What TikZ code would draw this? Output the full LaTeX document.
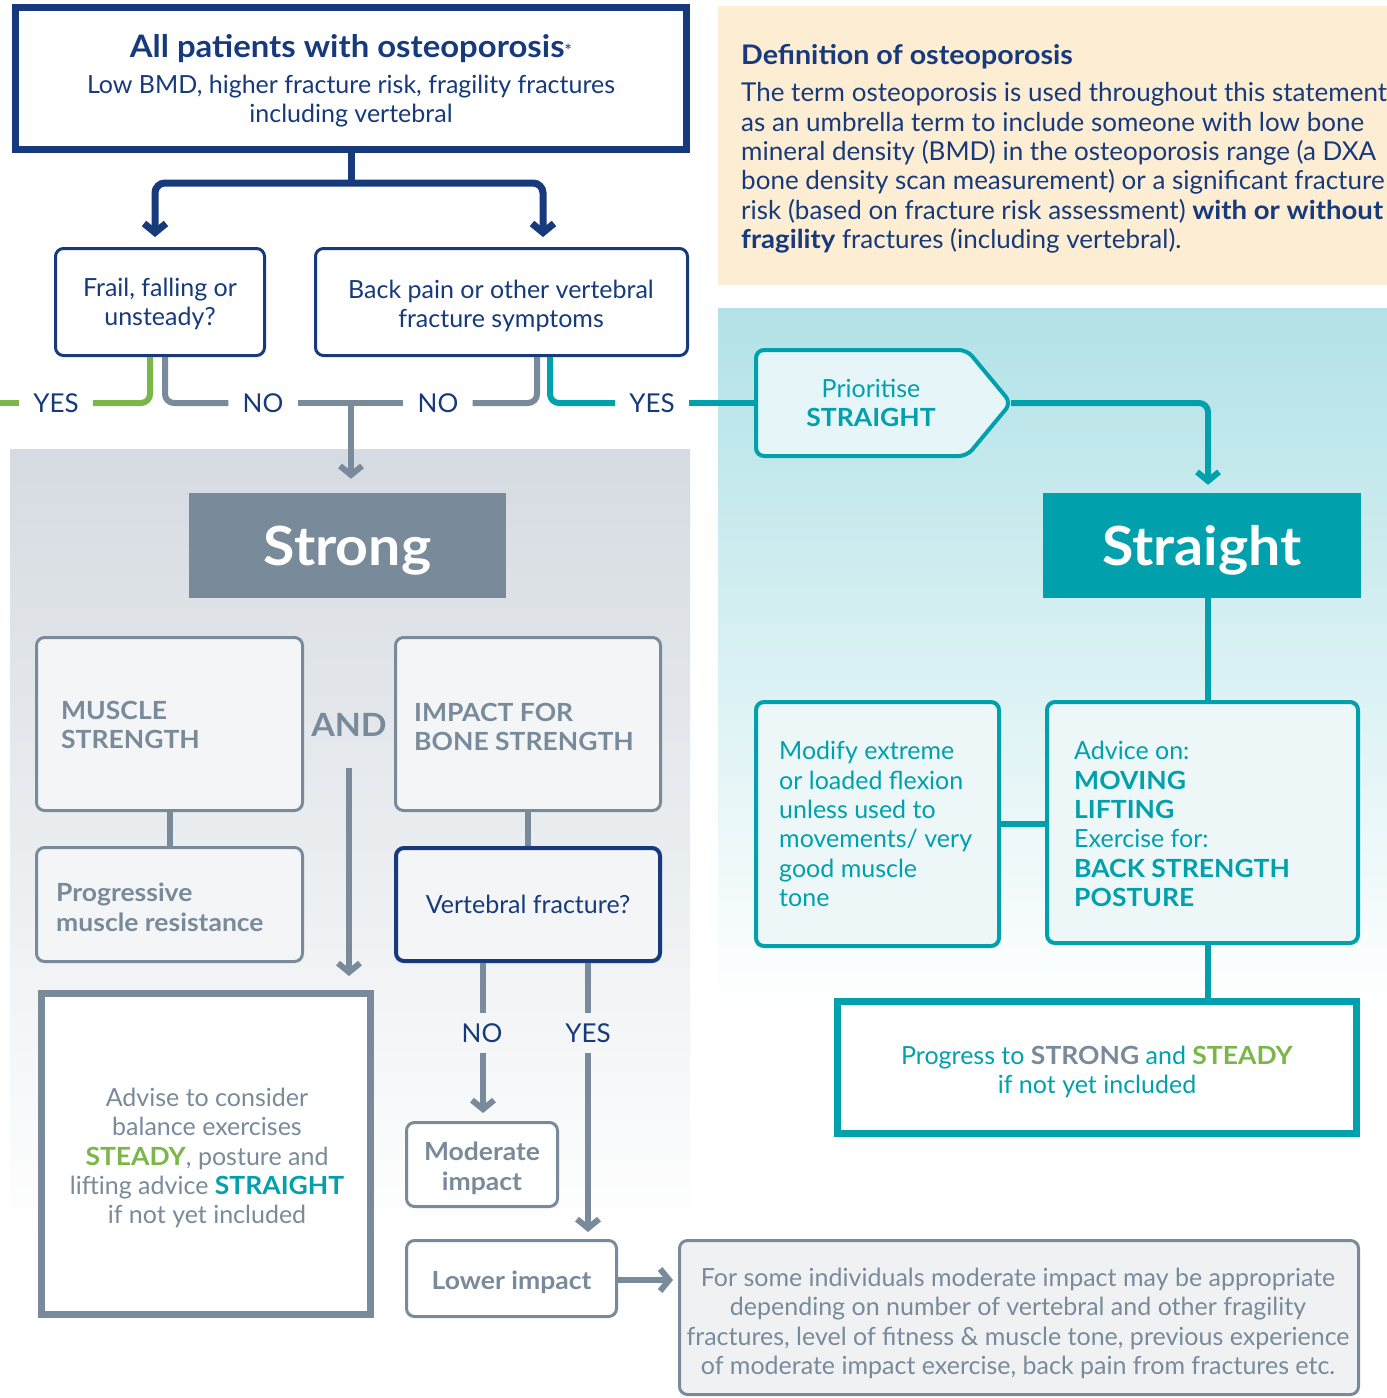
\documentclass[tikz,border=0pt]{standalone}
\usepackage{fontspec}
\setmainfont{Lato}[BoldFeatures={FakeStretch=1.06}]
\usetikzlibrary{arrows.meta,calc}
\definecolor{navy}{HTML}{163A7C}
\definecolor{cgrey}{HTML}{798A9B}
\definecolor{cteal}{HTML}{00A1AD}
\definecolor{cgreen}{HTML}{7AB648}
\definecolor{cbeige}{HTML}{FDEDD3}
\definecolor{ctealbg}{HTML}{B2E2E7}
\definecolor{cgreybg}{HTML}{D5DBE1}
\definecolor{cboxg}{HTML}{F4F5F7}
\definecolor{cboxt}{HTML}{EDF7F8}
\definecolor{cprio}{HTML}{E6F5F7}
\definecolor{cnote}{HTML}{F0F1F3}
\newcommand\fsz[2]{\fontsize{#1}{#2}\selectfont}
\begin{document}
\begin{tikzpicture}[x=1pt,y=-1pt,
  nconn/.style={draw=navy,line width=7pt,rounded corners=10pt},
  gconn/.style={draw=cgreen,line width=6pt,rounded corners=9pt},
  sconn/.style={draw=cgrey,line width=6pt,rounded corners=9pt},
  tconn/.style={draw=cteal,line width=6pt,rounded corners=9pt},
  arr/.style={-{Straight Barb[length=9pt,width=22pt]}},
  gbox/.style={draw=cgrey,line width=3pt,rounded corners=8pt,fill=cboxg},
  tbox/.style={draw=cteal,line width=4pt,rounded corners=8pt,fill=cboxt},
  nbox/.style={draw=navy,line width=3pt,rounded corners=8pt,fill=white},
  lbl/.style={text=navy,font=\fsz{26}{29},inner xsep=14pt,inner ysep=11pt,text height=18pt,text depth=0pt},
  gtxt/.style={text=cgrey,font=\fsz{25}{29.3}\bfseries,align=left,inner sep=0pt},
  ttxt/.style={text=cteal,font=\fsz{25}{29.3},align=left,inner sep=0pt},
  ctxt/.style={align=center,inner sep=0pt}]
\useasboundingbox (0,0) rectangle (1387,1398);
\fill[white] (0,0) rectangle (1387,1398);
% backgrounds
\fill[cbeige] (718,6) rectangle (1387,285);
\shade[top color=ctealbg,bottom color=white] (718,308) rectangle (1387,1010);
\shade[top color=cgreybg,bottom color=white] (10,449) rectangle (690,1240);

% definition
\node[anchor=west,text=navy,font=\fsz{27}{30}\bfseries,inner sep=0pt] (deftitle) at (741,57) {Definition of osteoporosis};
\node[anchor=west,text=navy,font=\fsz{26}{29.4},align=left,inner sep=0pt] (defbody) at (741,168) {The term osteoporosis is used throughout this statement\\
as an umbrella term to include someone with low bone\\
mineral density (BMD) in the osteoporosis range (a DXA\\
bone density scan measurement) or a significant fracture\\
risk (based on fracture risk assessment) \textbf{with or without}\\
\textbf{fragility} fractures (including vertebral).};

% top box
\node[draw=navy,line width=7pt,fill=white,minimum width=671pt,minimum height=142pt] (top) at (351,78.5) {};
\node[ctxt,text=navy,font=\fsz{25}{29}] (topT) at (351,81)
 {{\fsz{31}{36}\bfseries All patients with osteoporosis}{\fsz{18}{18}*}\\[7pt]Low BMD, higher fracture risk, fragility fractures\\including vertebral};

\node[nbox,minimum width=209pt,minimum height=107pt] (frail) at (160,302) {};
\node[ctxt,text=navy,font=\fsz{25}{29}] (frailT) at (160,304) {Frail, falling or\\unsteady?};
\node[nbox,minimum width=372pt,minimum height=107pt] (back) at (501.5,302) {};
\node[ctxt,text=navy,font=\fsz{25}{29}] (backT) at (501,305.5) {Back pain or other vertebral\\fracture symptoms};

\coordinate (j1) at (351,183);
\draw[nconn] (top.south) -- (j1);
\draw[nconn,arr,shorten >=10pt] (j1) -| (frail.north -| 155,0);
\draw[nconn,arr,shorten >=10pt] (j1) -| (back.north -| 543,0);

% yes / no labels
\node[lbl] (yesL) at (56,403) {YES};
\node[lbl] (noL) at (263,403) {NO};
\node[lbl] (noR) at (438,403) {NO};
\node[lbl] (yesR) at (652,403) {YES};
\coordinate (edgeL) at (0,403);
\coordinate (j2) at (351,403);

% Prioritise shape
\draw[draw=cteal,line width=4pt,fill=cprio,rounded corners=8pt] (1011,403) -- (967,350) -- (756,350) -- (756,456) -- (967,456) -- cycle;
\coordinate (prioW) at (756,403);
\coordinate (prioE) at (1011,403);
\node[ctxt,text=cteal,font=\fsz{25}{29}] (prio) at (871,403) {Prioritise\\\textbf{STRAIGHT}};

\draw[gconn] (frail.south -| 150,0) |- (yesL.east);
\draw[gconn] (yesL.west) -- (edgeL);
\draw[sconn] (frail.south -| 165,0) |- (noL.west);
\draw[sconn] (noL.east) -- (noR.west);
\draw[sconn] (back.south -| 537,0) |- (noR.east);
\draw[tconn] (back.south -| 550,0) |- (yesR.west);
\draw[tconn] (yesR.east) -- (prioW);

% Strong / Straight headers
\node[fill=cgrey,minimum width=317pt,minimum height=105pt,text=white,font=\fsz{54}{60}\bfseries,text depth=0pt] (strongbox) at (347.5,545.5) {Strong};
\node[fill=cteal,minimum width=318pt,minimum height=105pt,text=white,font=\fsz{54}{60}\bfseries,text depth=0pt] (straightbox) at (1202,545.5) {Straight};

\draw[sconn,arr,shorten >=14pt] (j2) -- (j2 |- strongbox.north);
\draw[tconn,arr,shorten >=8pt] (prioE) -| (straightbox.north -| 1208,0);

% Straight branch
\node[tbox,minimum width=243pt,minimum height=244pt] (modify) at (877.5,824) {};
\node[tbox,minimum width=311pt,minimum height=241pt] (advice) at (1202.5,822.5) {};
\node[ttxt,anchor=west] (modifyT) at (779,824) {Modify extreme\\or loaded flexion\\unless used to\\movements/ very\\good muscle\\tone};
\node[ttxt,anchor=west] (adviceT) at (1074,824) {Advice on:\\\textbf{MOVING}\\\textbf{LIFTING}\\Exercise for:\\\textbf{BACK STRENGTH}\\\textbf{POSTURE}};
\node[draw=cteal,line width=7pt,fill=white,minimum width=519pt,minimum height=132pt] (progress) at (1097,1067.5) {};
\node[ctxt,text=cteal,font=\fsz{25}{29}] (progressT) at (1097,1071.5)
 {Progress to \textcolor{cgrey}{\textbf{STRONG}} and \textcolor{cgreen}{\textbf{STEADY}}\\if not yet included};
\draw[tconn] (straightbox.south -| 1208,0) -- (advice.north -| 1208,0);
\draw[tconn] (modify.east) -- (modify.east -| advice.west);
\draw[tconn] (advice.south -| 1208,0) -- (progress.north -| 1208,0);

% Strong branch
\node[gbox,minimum width=266pt,minimum height=173pt] (muscle) at (169.5,724) {};
\node[gbox,minimum width=265pt,minimum height=173pt] (impact) at (528,724) {};
\node[gbox,minimum width=266pt,minimum height=114pt] (progr) at (169.5,904.5) {};
\node[nbox,line width=4pt,fill=cboxg,minimum width=264pt,minimum height=113pt,text=navy,font=\fsz{25}{29}] (vert) at (528,904.5) {Vertebral fracture?};
\node[gtxt,anchor=west] (muscleT) at (61,725) {MUSCLE\\STRENGTH};
\node[gtxt,anchor=west] (impactT) at (414,727) {IMPACT FOR\\BONE STRENGTH};
\node[gtxt,anchor=west,font=\fsz{25}{30}\bfseries] (progrT) at (56,907) {Progressive\\muscle resistance};
\node[text=cgrey,font=\fsz{32}{36}\bfseries,inner sep=2pt] (and) at (349,725) {AND};
\draw[sconn] (muscle.south -| 170,0) -- (progr.north -| 170,0);
\draw[sconn] (impact.south) -- (vert.north);

\node[draw=cgrey,line width=7pt,fill=white,minimum width=329pt,minimum height=321pt] (advise) at (206,1154) {};
\node[ctxt,text=cgrey,font=\fsz{25}{29.3}] (adviseT) at (207,1158)
 {Advise to consider\\balance exercises\\\textcolor{cgreen}{\textbf{STEADY}}, posture and\\lifting advice \textcolor{cteal}{\textbf{STRAIGHT}}\\if not yet included};
\coordinate (andS) at (349,768);
\draw[sconn,arr,shorten >=14pt] (andS) -- (andS |- advise.north);

\node[gbox,minimum width=151pt,minimum height=84pt,fill=white] (moder) at (482,1164.5) {};
\node[ctxt,text=cgrey,font=\fsz{25}{30}\bfseries] (moderT) at (482,1168) {Moderate\\impact};
\node[gbox,minimum width=210pt,minimum height=76pt,fill=white] (lower) at (511.5,1278.5) {};
\node[ctxt,text=cgrey,font=\fsz{25}{29}\bfseries] (lowerT) at (511.5,1282) {Lower impact};
\node[gbox,fill=cnote,minimum width=679pt,minimum height=154pt] (note) at (1019,1317.5) {};
\node[ctxt,text=cgrey,font=\fsz{25}{29.3}] (noteT) at (1018,1323.5)
 {For some individuals moderate impact may be appropriate\\depending on number of vertebral and other fragility\\fractures, level of fitness \& muscle tone, previous experience\\of moderate impact exercise, back pain from fractures etc.};

\node[lbl,inner xsep=0pt] (noV) at (482,1033) {NO};
\node[lbl,inner xsep=0pt] (yesV) at (588,1033) {YES};
\draw[sconn] (vert.south -| 483,0) -- (noV.north -| 483,0);
\draw[sconn,arr,shorten >=8pt] (noV.south -| 483,0) -- (moder.north -| 483,0);
\draw[sconn] (vert.south -| 588,0) -- (yesV.north);
\draw[sconn,arr,shorten >=7pt] (yesV.south) -- (lower.north -| 588,0);
\draw[sconn,arr,shorten >=5pt] (lower.east |- 0,1280) -- (note.west |- 0,1280);
\end{tikzpicture}
\end{document}
